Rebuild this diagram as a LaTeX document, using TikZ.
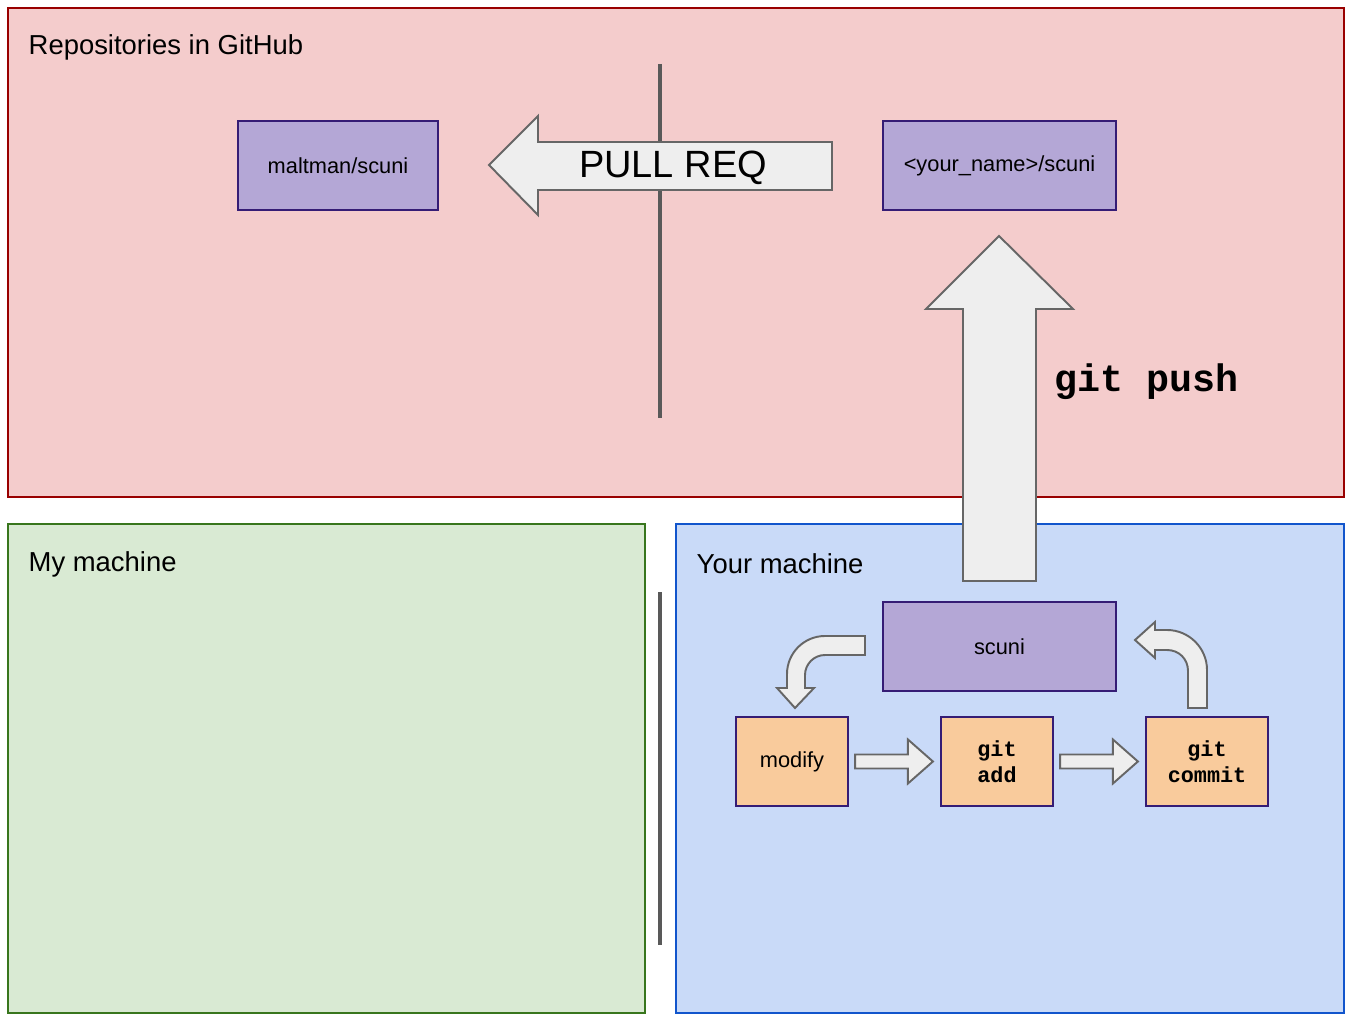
\documentclass[tikz,border=0pt]{standalone}
\usepackage{fontspec}
\setmainfont{Liberation Sans}
\setmonofont{Liberation Mono}
\usetikzlibrary{calc,positioning}
\definecolor{hubfill}{HTML}{F4CCCC}
\definecolor{hubedge}{HTML}{990000}
\definecolor{minefill}{HTML}{D9EAD3}
\definecolor{mineedge}{HTML}{38761D}
\definecolor{yourfill}{HTML}{C9DAF8}
\definecolor{youredge}{HTML}{1155CC}
\definecolor{repofill}{HTML}{B4A7D6}
\definecolor{repoedge}{HTML}{351C75}
\definecolor{stepfill}{HTML}{F9CB9C}
\definecolor{arrowfill}{HTML}{EEEEEE}
\definecolor{arrowedge}{HTML}{666666}
\definecolor{divgray}{HTML}{595959}

% horizontal block arrow between two step boxes
\newcommand{\flatarrow}[2]{%
  \draw[blockarrow] ($(#1.east)+(6,-7)$) -- ($(#2.west)+(-32,-7)$) -- ($(#2.west)+(-32,-22)$)
    -- ($(#2.west)+(-7,0)$) -- ($(#2.west)+(-32,22)$) -- ($(#2.west)+(-32,7)$)
    -- ($(#1.east)+(6,7)$) -- cycle;}

\begin{document}
\begin{tikzpicture}[x=0.01cm,y=-0.01cm,
  repo/.style={draw=repoedge,fill=repofill,line width=.6pt,minimum height=.89cm,inner sep=0pt,font=\fontsize{6.2}{7.4}\selectfont},
  stepbox/.style={draw=repoedge,fill=stepfill,line width=.6pt,minimum height=.89cm,inner sep=0pt,align=center,font=\ttfamily\bfseries\fontsize{6.2}{7.4}\selectfont},
  title/.style={anchor=west,inner sep=0pt,font=\fontsize{7.8}{9}\selectfont},
  blockarrow/.style={fill=arrowfill,draw=arrowedge,line width=.55pt,line join=miter},
  divider/.style={draw=divgray,line width=.9pt}]
\useasboundingbox (0,0) rectangle (1352,1022);

% regions
\draw[fill=hubfill,draw=hubedge,line width=.6pt] (8,8) rectangle (1344,497);
\draw[fill=minefill,draw=mineedge,line width=.6pt] (8,524) rectangle (645,1013);
\draw[fill=yourfill,draw=youredge,line width=.6pt] (676,524) rectangle (1344,1013);
\node[title] (hubtitle) at (28,47) {Repositories in GitHub};
\node[title] (minetitle) at (28,564) {My machine};
\node[title] (yourtitle) at (696,564) {Your machine};

% dividers
\draw[divider] (660,64) -- (660,418);
\draw[divider] (660,592) -- (660,945);

% repositories
\node[repo,minimum width=2cm] (upstream) at (338,165.5) {maltman/scuni};
\node[repo,minimum width=2.33cm] (fork) at (999.5,165.5) {<your\_name>/scuni};
\node[repo,minimum width=2.33cm] (local) at (999.5,646.5) {scuni};

% work steps
\node[stepbox,minimum width=1.12cm,font=\fontsize{6.2}{7.4}\selectfont] (modify) at (792,761.5) {modify};
\node[stepbox,minimum width=1.12cm] (add) at (997,761.5) {git\\add};
\node[stepbox,minimum width=1.22cm] (commit) at (1207,761.5) {git\\commit};

% pull request
\draw[blockarrow] (832,142) -- (538,142) -- (538,116) -- (489,165) -- (538,215) -- (538,190) -- (832,190) -- cycle;
\node[font=\fontsize{10.8}{13}\selectfont] (pullreq) at (673,168) {PULL REQ};

% push
\draw[blockarrow] (963,581) -- (963,309) -- (926,309) -- (999,236) -- (1073,309) -- (1036,309) -- (1036,581) -- cycle;
\node[anchor=base west,inner sep=0pt,font=\ttfamily\bfseries\fontsize{10.9}{13}\selectfont] (push) at (1054,392) {git push};

% cycle arrows
\draw[blockarrow] (865,636) -- (825,636) .. controls (804,636) and (787,653) .. (787,674) -- (787,688) -- (777,688)
  -- (795,708) -- (814,688) -- (805,688) -- (805,675) .. controls (805,664) and (814,655) .. (825,655) -- (865,655) -- cycle;
\flatarrow{modify}{add}
\flatarrow{add}{commit}
\draw[blockarrow] (1188,708) -- (1188,671) .. controls (1188,659) and (1179,650) .. (1167,650) -- (1155,650) -- (1155,658)
  -- (1135,640) -- (1155,622) -- (1155,630) -- (1167,630) .. controls (1189,630) and (1207,648) .. (1207,670) -- (1207,708) -- cycle;
\end{tikzpicture}
\end{document}
